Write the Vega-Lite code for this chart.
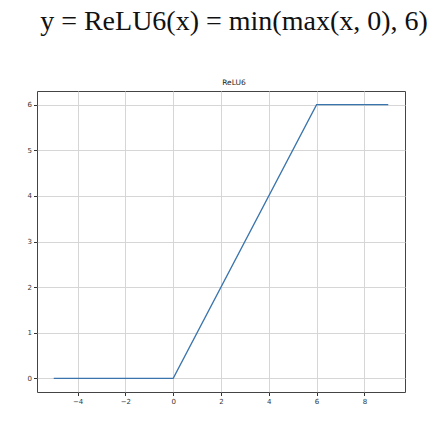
{
  "$schema": "https://vega.github.io/schema/vega-lite/v6.json",
  "width": 368,
  "height": 301,
  "autosize": "none",
  "padding": {"left": 37, "top": 91, "right": 43, "bottom": 41},
  "background": "white",
  "title": {
    "text": "y = ReLU6(x) = min(max(x, 0), 6)",
    "subtitle": "ReLU6",
    "anchor": "middle",
    "font": "Liberation Serif",
    "fontSize": 28,
    "fontWeight": "normal",
    "color": "#111",
    "dx": 13,
    "subtitleFont": "DejaVu Sans",
    "subtitleFontSize": 7.5,
    "subtitleColor": "#222",
    "subtitlePadding": 43,
    "offset": 5
  },
  "data": {
    "values": [
      {"x": -5, "y": 0},
      {"x": 0, "y": 0},
      {"x": 6, "y": 6},
      {"x": 9, "y": 6}
    ]
  },
  "mark": {"type": "line", "color": "#3a74ad", "strokeWidth": 1.3},
  "encoding": {
    "x": {
      "field": "x",
      "type": "quantitative",
      "scale": {"domain": [-5.7, 9.7], "nice": false, "zero": false},
      "axis": {
        "title": null,
        "values": [-4, -2, 0, 2, 4, 6, 8],
        "grid": true,
        "gridColor": "#d6d6d6",
        "gridWidth": 1,
        "domain": false,
        "tickColor": "#333",
        "tickSize": 3.5,
        "labelFont": "DejaVu Sans",
        "labelFontSize": 7,
        "labelColor": "#333",
        "labelPadding": 2
      }
    },
    "y": {
      "field": "y",
      "type": "quantitative",
      "scale": {"domain": [-0.3, 6.3], "nice": false, "zero": false},
      "axis": {
        "title": null,
        "values": [0, 1, 2, 3, 4, 5, 6],
        "grid": true,
        "gridColor": "#d6d6d6",
        "gridWidth": 1,
        "domain": false,
        "tickColor": "#333",
        "tickSize": 3.5,
        "labelFont": "DejaVu Sans",
        "labelFontSize": 7,
        "labelColor": "#333",
        "labelPadding": 2
      }
    }
  },
  "config": {
    "view": {"stroke": "#444", "strokeWidth": 1}
  }
}
